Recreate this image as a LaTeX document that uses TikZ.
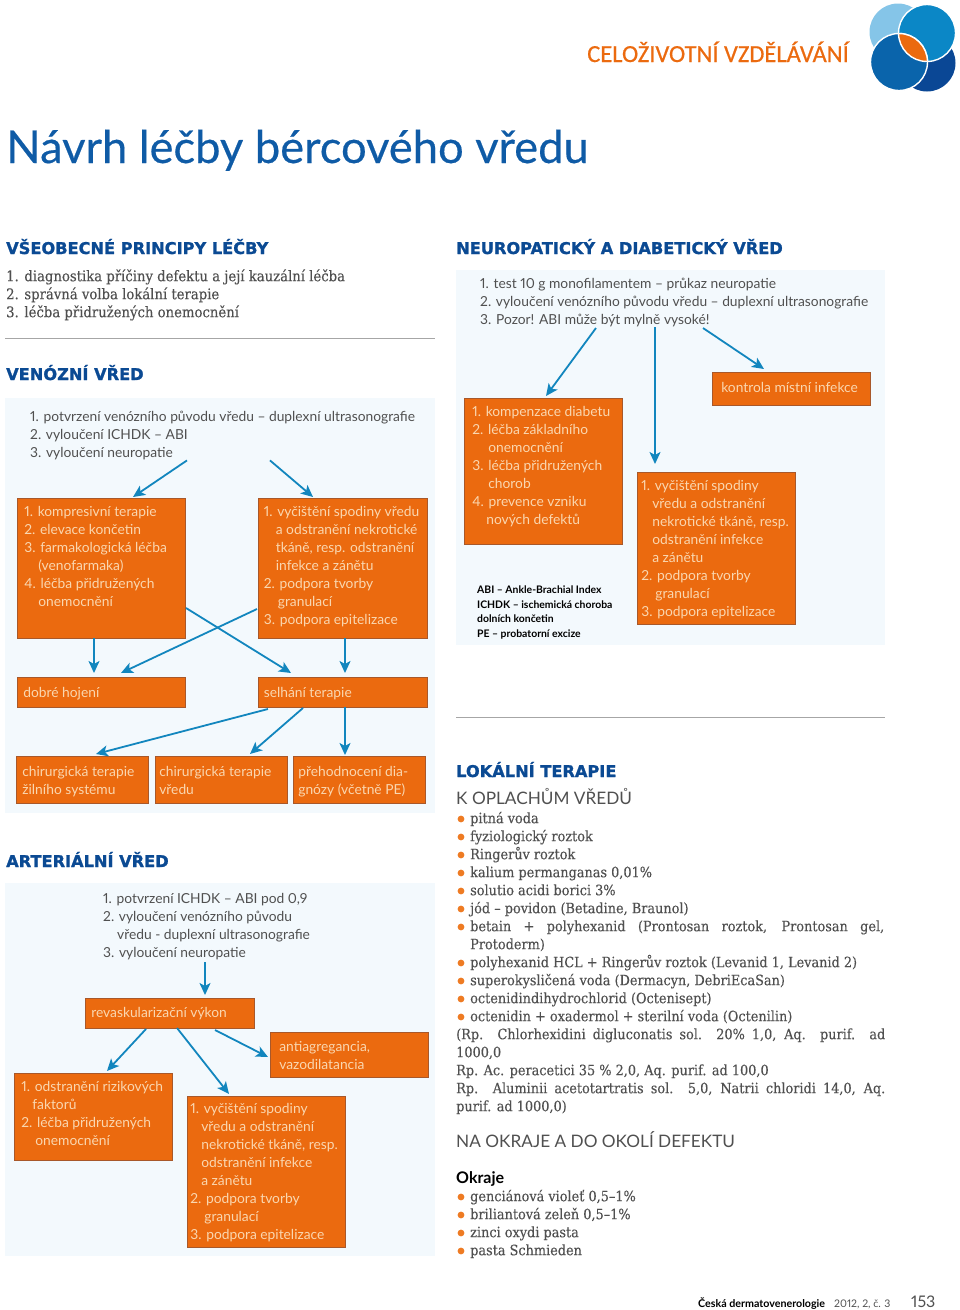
\documentclass[tikz,border=0pt]{standalone}
\usepackage{fontspec}
\usetikzlibrary{arrows.meta}
\setmainfont{Lato}[Numbers=Proportional]
\newfontfamily\headfont{DejaVu Sans}[BoldFeatures={FakeBold=1.2}]
\newfontfamily\slabfont{DejaVu Serif Condensed}[FakeBold=0.25]
\newfontfamily\medfont{Lato}[FakeBold=0.4]
\newfontfamily\secfont{Carlito}[FakeBold=0.6]
\definecolor{boxfill}{HTML}{EB6A0F}
\definecolor{boxline}{HTML}{A8582A}
\definecolor{boxtext}{HTML}{FAD7B0}
\definecolor{arrowblue}{HTML}{1286BE}
\definecolor{panelbg}{HTML}{F3F9FD}
\definecolor{navyhead}{HTML}{0B4A93}
\definecolor{titleblue}{HTML}{0F5BA6}
\definecolor{graytext}{HTML}{505050}
\definecolor{bullet}{HTML}{EE7B23}
\definecolor{logolight}{HTML}{85C5E8}
\definecolor{logomid}{HTML}{0B87C6}
\definecolor{logoblue}{HTML}{0A64AB}
\definecolor{logonavy}{HTML}{0A4795}
\newcommand{\ind}[1]{\hspace*{#1pt}}
\newcommand{\boxfont}{\fontsize{13.8}{18}\selectfont}
\newcommand{\obox}[8]{\node[obox] (#1) at (#2,#3) {\parbox[c][#5pt][t]{#4pt}{\vspace*{\dimexpr #7pt-12.6pt\relax}\boxfont\leftskip=#6pt\rightskip=-20pt plus 1fil\parfillskip=0pt plus 1fil\strut #8}};}
\tikzset{
  obox/.style={anchor=north west,inner sep=0pt,fill=boxfill,draw=boxline,line width=0.7pt,text=boxtext},
  arr/.style={draw=arrowblue,line width=1.8pt,-{Stealth[length=12pt,width=11pt,inset=3pt]}},
  panel/.style={anchor=north west,inner sep=0pt,fill=panelbg},
  gtext/.style={anchor=north west,inner sep=0pt,align=left,text=graytext,font=\boxfont},
  head/.style={anchor=base west,inner sep=0pt,text=navyhead,font=\headfont\bfseries\fontsize{16.2}{20}\selectfont},
  sub/.style={anchor=base west,inner sep=0pt,text=graytext,font=\fontsize{17.2}{22}\selectfont},
  slab/.style={anchor=north west,inner sep=0pt,align=left,text=graytext,font=\slabfont\fontsize{14.3}{18}\selectfont},
  legend/.style={anchor=north west,inner sep=0pt,align=left,text=black,font=\bfseries\fontsize{10.4}{14.5}\selectfont},
  bul/.style={fill=bullet},
  rule/.style={draw=gray!70,line width=0.6pt}
}
\begin{document}
\begin{tikzpicture}[x=1pt,y=-1pt]
\useasboundingbox (0,0) rectangle (960,1310);
% logo
\fill[logolight] (898,32) circle (28.5);
\fill[logonavy] (927,63) circle (28.5);
\fill[logomid,draw=white,line width=1.4pt] (927,33) circle (28.5);
\fill[logoblue,draw=white,line width=1.4pt] (899,62) circle (28.5);
\begin{scope}
\clip (927,33) circle (28.5);
\fill[boxfill,draw=white,line width=1.4pt] (899,62) circle (28.5);
\end{scope}
\begin{scope}
\clip (899,62) circle (28.5);
\draw[white,line width=1.4pt] (927,33) circle (28.5);
\end{scope}
\node[anchor=base east,inner sep=0pt,text=boxfill,font=\secfont\fontsize{24.5}{26}\selectfont] (section) at (849,62) {CELOŽIVOTNÍ VZDĚLÁVÁNÍ};
\node[anchor=base west,inner sep=0pt,text=titleblue,font=\medfont\fontsize{45.3}{50}\selectfont] (title) at (6,163) {Návrh léčby bércového vředu};
% top left
\node[head] (h1) at (6,254) {VŠEOBECNÉ PRINCIPY LÉČBY};
\node[slab,font=\slabfont\fontsize{14.7}{18}\selectfont] (gen) at (6,268.4) {\strut 1. diagnostika příčiny defektu a její kauzální léčba\\\strut 2. správná volba lokální terapie\\\strut 3. léčba přidružených onemocnění};
\draw[rule] (5,338) -- (435,338);
\node[head] (h2) at (456,254) {NEUROPATICKÝ A DIABETICKÝ VŘED};
\node[head] (h3) at (6,380) {VENÓZNÍ VŘED};
\node[head] (h4) at (6,867) {ARTERIÁLNÍ VŘED};
\node[head] (h5) at (456,777) {LOKÁLNÍ TERAPIE};
% panels
\node[panel,minimum width=430pt,minimum height=415pt] (pv) at (5,398) {};
\node[panel,minimum width=429pt,minimum height=375pt] (pn) at (456,270) {};
\node[panel,minimum width=430pt,minimum height=373pt] (pa) at (5,883) {};
% venous
\node[gtext] (t1) at (30,408.4) {\strut 1. potvrzení venózního původu vředu – duplexní ultrasonografie\\\strut 2. vyloučení ICHDK – ABI\\\strut 3. vyloučení neuropatie};
\obox{A}{17}{498}{168}{140}{7}{18}{1. kompresivní terapie\\2. elevace končetin\\3. farmakologická léčba\\\ind{14}(venofarmaka)\\4. léčba přidružených\\\ind{14}onemocnění}
\obox{B}{258}{498}{169}{140}{5.5}{18}{1. vyčištění spodiny vředu\\\ind{12}a odstranění nekrotické\\\ind{12}tkáně, resp. odstranění\\\ind{12}infekce a zánětu\\2. podpora tvorby\\\ind{14}granulací\\3. podpora epitelizace}
\obox{D}{17}{677}{168}{30}{6}{20}{dobré hojení}
\obox{S}{258}{677}{169}{30}{5.5}{20}{selhání terapie}
\obox{C1}{16}{756}{132}{47}{6}{20}{chirurgická terapie\\žilního systému}
\obox{C2}{155}{756}{132}{47}{4}{20}{chirurgická terapie\\vředu}
\obox{C3}{293}{756}{132}{47}{5}{20}{přehodnocení dia-\\gnózy (včetně PE)}
\draw[arr] ([shift={(157,52)}]t1.north west) -- ([shift={(116,-1)}]A.north west);
\draw[arr] ([shift={(240,52)}]t1.north west) -- ([shift={(55,-1)}]B.north west);
\draw[arr] ([shift={(77,140)}]A.north west) -- ([shift={(77,-4)}]D.north west);
\draw[arr] ([shift={(169,110)}]A.north west) -- ([shift={(33,-4)}]S.north west);
\draw[arr] ([shift={(-1,111)}]B.north west) -- ([shift={(104,-4)}]D.north west);
\draw[arr] ([shift={(87,140)}]B.north west) -- ([shift={(87,-4)}]S.north west);
\draw[arr] ([shift={(10,32)}]S.north west) -- ([shift={(80,-2)}]C1.north west);
\draw[arr] ([shift={(45,31)}]S.north west) -- ([shift={(95,-2)}]C2.north west);
\draw[arr] ([shift={(87,30)}]S.north west) -- ([shift={(52,-1)}]C3.north west);
% neuropathic
\node[gtext] (t2) at (480,275.6) {\strut 1. test 10 g monofilamentem – průkaz neuropatie\\\strut 2. vyloučení venózního původu vředu – duplexní ultrasonografie\\\strut 3. Pozor! ABI může být mylně vysoké!};
\obox{K}{464}{398}{158}{146}{8}{18}{1. kompenzace diabetu\\2. léčba základního\\\ind{16}onemocnění\\3. léčba přidružených\\\ind{16}chorob\\4. prevence vzniku\\\ind{14}nových defektů}
\obox{V}{637}{472}{158}{152}{4}{18}{1. vyčištění spodiny\\\ind{11}vředu a odstranění\\\ind{11}nekrotické tkáně, resp.\\\ind{11}odstranění infekce\\\ind{11}a zánětu\\2. podpora tvorby\\\ind{14}granulací\\3. podpora epitelizace}
\obox{M}{712}{372}{158}{33}{9}{20}{kontrola místní infekce}
\node[legend] (leg) at (477,586) {ABI – Ankle-Brachial Index\\ICHDK – ischemická choroba\\dolních končetin\\PE – probatorní excize};
\draw[arr] ([shift={(116,52.4)}]t2.north west) -- ([shift={(82,-2)}]K.north west);
\draw[arr] ([shift={(175,51.4)}]t2.north west) -- ([shift={(18,-8)}]V.north west);
\draw[arr] ([shift={(223,52.4)}]t2.north west) -- ([shift={(52,-3)}]M.north west);
\draw[rule] (456,717) -- (885,717);
% arterial
\node[gtext] (t3) at (103,890.6) {\strut 1. potvrzení ICHDK – ABI pod 0,9\\\strut 2. vyloučení venózního původu\\\strut\ind{14}vředu - duplexní ultrasonografie\\\strut 3. vyloučení neuropatie};
\obox{R}{85}{998}{169}{30}{6}{19}{revaskularizační výkon}
\obox{G}{270}{1032}{158}{45}{9}{19}{antiagregancia,\\vazodilatancia}
\obox{L}{14}{1073}{158}{87}{7}{18}{1. odstranění rizikových\\\ind{11}faktorů\\2. léčba přidružených\\\ind{14}onemocnění}
\obox{W}{187}{1096}{158}{151}{3}{17}{1. vyčištění spodiny\\\ind{11}vředu a odstranění\\\ind{11}nekrotické tkáně, resp.\\\ind{11}odstranění infekce\\\ind{11}a zánětu\\2. podpora tvorby\\\ind{14}granulací\\3. podpora epitelizace}
\draw[arr] ([shift={(102,71.4)}]t3.north west) -- ([shift={(120,-3)}]R.north west);
\draw[arr] ([shift={(61,31)}]R.north west) -- ([shift={(93,-2)}]L.north west);
\draw[arr] ([shift={(92,30)}]R.north west) -- ([shift={(42,-2)}]W.north west);
\draw[arr] ([shift={(130,32)}]R.north west) -- ([shift={(-2,25)}]G.north west);
% local therapy
\node[sub] (s1) at (456,804) {K OPLACHŮM VŘEDŮ};
\node[slab] (l1) at (470,810.4) {\strut pitná voda\\\strut fyziologický roztok\\\strut Ringerův roztok\\\strut kalium permanganas 0,01\%\\\strut solutio acidi borici 3\%\\\strut jód – povidon (Betadine, Braunol)\\\strut\makebox[414pt][s]{betain + polyhexanid (Prontosan roztok, Prontosan gel,}\\\strut Protoderm)\\\strut polyhexanid HCL + Ringerův roztok (Levanid 1, Levanid 2)\\\strut superokysličená voda (Dermacyn, DebriEcaSan)\\\strut octenidindihydrochlorid (Octenisept)\\\strut octenidin + oxadermol + sterilní voda (Octenilin)};
\node[slab] (l2) at (456,1026.4) {\strut\makebox[429pt][s]{(Rp. Chlorhexidini digluconatis sol. 20\% 1,0, Aq. purif. ad}\\\strut 1000,0\\\strut Rp. Ac. peracetici 35 \% 2,0, Aq. purif. ad 100,0\\\strut\makebox[429pt][s]{Rp. Aluminii acetotartratis sol. 5,0, Natrii chloridi 14,0, Aq.}\\\strut purif. ad 1000,0)};
\foreach \by in {819,837,855,873,891,909,927,963,981,999,1017,1197,1215,1233,1251}
  \fill[bul] (461,\by) circle (3.4);
\node[sub] (s2) at (456,1147) {NA OKRAJE A DO OKOLÍ DEFEKTU};
\node[anchor=base west,inner sep=0pt,text=black,font=\bfseries\fontsize{16}{18}\selectfont] (ok) at (456,1183) {Okraje};
\node[slab] (l3) at (470,1188.4) {\strut genciánová violeť 0,5–1\%\\\strut briliantová zeleň 0,5–1\%\\\strut zinci oxydi pasta\\\strut pasta Schmieden};
% footer
\node[anchor=base west,inner sep=0pt,text=black,font=\bfseries\fontsize{10.7}{12}\selectfont] (j) at (698,1307) {Česká dermatovenerologie};
\node[anchor=base west,inner sep=0pt,text=graytext,font=\fontsize{10.5}{12}\selectfont] (y) at (834,1307) {2012, 2, č. 3};
\node[anchor=base west,inner sep=0pt,text=graytext,font=\fontsize{16}{18}\selectfont] (p) at (911,1307) {153};
\end{tikzpicture}
\end{document}
